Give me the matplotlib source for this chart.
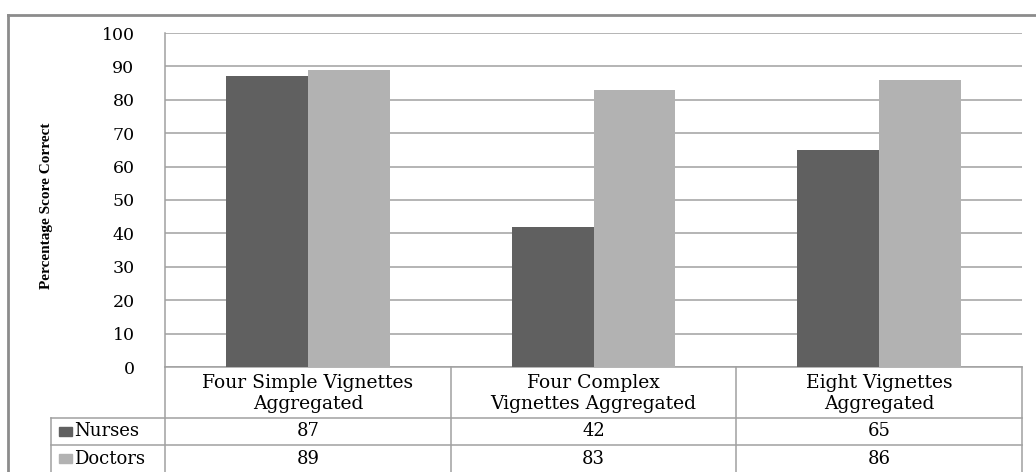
import numpy as np
import matplotlib
matplotlib.use('Agg')
import matplotlib.pyplot as plt
from matplotlib.patches import Rectangle

# data
categories = ["Four Simple Vignettes\nAggregated",
              "Four Complex\nVignettes Aggregated",
              "Eight Vignettes\nAggregated"]
series_names = ["Nurses", "Doctors"]
nurses = [87, 42, 65]
doctors = [89, 83, 86]
y_ticks = list(range(0, 101, 10))

c_nurse = '#606060'
c_doc = '#b2b2b2'
c_line = '#a0a0a0'
serif = ['DejaVu Serif']

W, H = 1036, 472
L, R, T, B = 165, 1022, 33, 367   # plot area in pixels

fig = plt.figure(figsize=(W / 100, H / 100), dpi=100)
fig.patch.set_facecolor('white')

ax = fig.add_axes([L / W, 1 - B / H, (R - L) / W, (B - T) / H])
ax.set_xlim(0, len(categories))
ax.set_ylim(0, 100)

bw = 0.287
x = np.arange(len(categories)) + 0.5
ax.bar(x - bw / 2, nurses, bw, color=c_nurse, zorder=3)
ax.bar(x + bw / 2, doctors, bw, color=c_doc, zorder=3)

ax.set_yticks(y_ticks)
ax.set_xticks([])
ax.yaxis.grid(True, color=c_line, lw=1.1)
ax.set_axisbelow(True)
ax.tick_params(axis='y', length=0, pad=22, labelsize=12.5)
for lab in ax.get_yticklabels():
    lab.set_family(serif)
for s in ['top', 'right']:
    ax.spines[s].set_visible(False)
for s in ['left', 'bottom']:
    ax.spines[s].set_color(c_line)
    ax.spines[s].set_linewidth(1.1)

fig.text(47 / W, 1 - 206 / H, "Percentage Score Correct", rotation=90,
         ha='center', va='center', family=['Liberation Serif'],
         fontweight='bold', fontsize=11)

# overlay in pixel coordinates for the frame and the data table
ov = fig.add_axes([0, 0, 1, 1])
ov.set_xlim(0, W)
ov.set_ylim(H, 0)
ov.axis('off')

ov.plot([8, 8], [15, H + 5], color='#8c8c8c', lw=2, clip_on=False)
ov.plot([8, W + 5], [15, 15], color='#8c8c8c', lw=2, clip_on=False)

row_tops = [418, 445]
row_h = 27
catw = (R - L) / len(categories)
col_edges = [L + i * catw for i in range(len(categories) + 1)]
leg_left = 51

for yy in row_tops:
    ov.plot([leg_left, R], [yy, yy], color=c_line, lw=1.1)
ov.plot([leg_left, leg_left], [row_tops[0], H + 5], color=c_line, lw=1.1, clip_on=False)
for xx in col_edges:
    ov.plot([xx, xx], [B, H + 5], color=c_line, lw=1.1, clip_on=False)

for i, cat in enumerate(categories):
    cx = (col_edges[i] + col_edges[i + 1]) / 2
    ov.text(cx, (B + row_tops[0]) / 2 + 1, cat, ha='center', va='center',
            family=serif, fontsize=13.5, linespacing=1.15)

for r, (name, vals, col) in enumerate(zip(series_names, [nurses, doctors], [c_nurse, c_doc])):
    cy = row_tops[r] + row_h / 2
    ov.add_patch(Rectangle((59, cy - 4.5), 13, 9, color=col))
    ov.text(74, cy, name, ha='left', va='center', family=serif, fontsize=13)
    for i, v in enumerate(vals):
        cx = (col_edges[i] + col_edges[i + 1]) / 2
        ov.text(cx, cy, str(v), ha='center', va='center', family=serif, fontsize=13)

fig.savefig('out.png', dpi=100)
